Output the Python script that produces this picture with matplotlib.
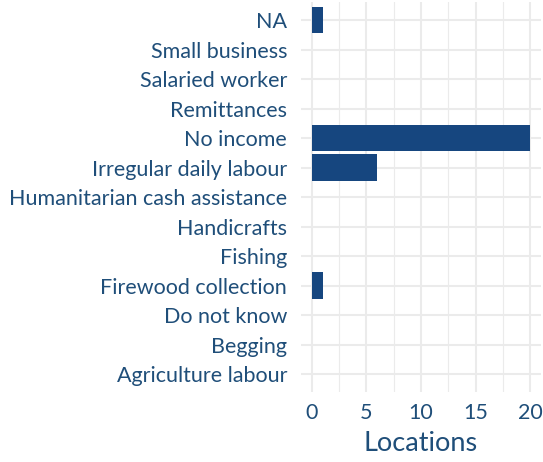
import matplotlib.pyplot as plt
from matplotlib.ticker import MultipleLocator

categories = ['Agriculture labour', 'Begging', 'Do not know', 'Firewood collection',
              'Fishing', 'Handicrafts', 'Humanitarian cash assistance',
              'Irregular daily labour', 'No income', 'Remittances',
              'Salaried worker', 'Small business', 'NA']
locations = [0, 0, 0, 1, 0, 0, 0, 6, 20, 0, 0, 0, 1]

text_col = '#1f4e79'
bar_col = '#16467f'

plt.rcParams['font.family'] = ['Lato', 'DejaVu Sans']

fig = plt.figure(figsize=(5.43, 4.62), dpi=100)
ax = fig.add_axes([0.5543, 0.152, 0.442, 0.843])

pos = list(range(1, len(categories) + 1))
ax.barh(pos, locations, height=0.9, color=bar_col, linewidth=0, zorder=3)

ax.set_xlim(-1, 21)
ax.set_ylim(0.4, len(categories) + 0.6)
ax.set_yticks(pos)
ax.set_yticklabels(categories)
ax.xaxis.set_major_locator(MultipleLocator(5))
ax.xaxis.set_minor_locator(MultipleLocator(2.5))

ax.grid(which='major', color='#ebebeb', linewidth=1.5, zorder=0)
ax.grid(which='minor', axis='x', color='#ebebeb', linewidth=0.8, zorder=0)
ax.set_axisbelow(True)

for s in ax.spines.values():
    s.set_visible(False)
ax.tick_params(which='both', length=0)
ax.tick_params(axis='y', labelsize=15.5, labelcolor=text_col, pad=10)
ax.tick_params(axis='x', labelsize=15.5, labelcolor=text_col, pad=8)

ax.set_xlabel('Locations', fontsize=19.5, color=text_col, labelpad=6)

fig.savefig('out.png', dpi=100)
